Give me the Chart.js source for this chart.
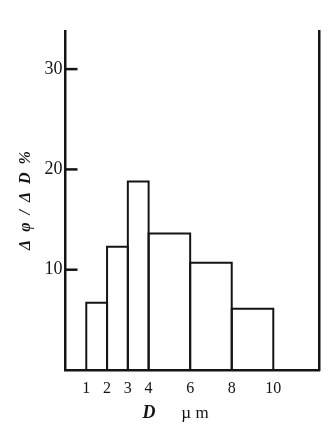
<!DOCTYPE html>
<html>
<head>
<meta charset="utf-8">
<script src="https://cdn.jsdelivr.net/npm/chart.js@4/dist/chart.umd.min.js"></script>
<style>
  html, body { margin: 0; padding: 0; background: #fff; }
  canvas { display: block; }
</style>
</head>
<body>
<canvas id="grafico" width="336" height="438"></canvas>
<script>
const bordes = [1, 2, 3, 4, 6, 8, 10];          // límites de clase D (µm)
const alturas = [6.7, 12.3, 18.8, 13.6, 10.7, 6.1]; // Δφ/ΔD %
const ticksX = [1, 2, 3, 4, 6, 8, 10];
const ticksY = [10, 20, 30];

const negro = '#141414';
const serif = "'Liberation Serif', 'DejaVu Serif', serif";

// cada barra es un rectángulo abierto por abajo
const datasets = alturas.map((h, i) => ({
    data: [
        { x: bordes[i], y: 0 },
        { x: bordes[i], y: h },
        { x: bordes[i + 1], y: h },
        { x: bordes[i + 1], y: 0 }
    ],
    showLine: true,
    borderColor: negro,
    borderWidth: 2,
    pointRadius: 0,
    fill: false,
    tension: 0
}));

// marcas del eje y hacia adentro + título del eje x en dos estilos
const extras = {
    id: 'extras',
    afterDraw(chart) {
        const c = chart.ctx;
        const y = chart.scales.y;
        const izq = chart.chartArea.left;
        c.save();
        c.strokeStyle = negro;
        c.lineWidth = 2.5;
        ticksY.forEach(v => {
            const py = y.getPixelForValue(v);
            c.beginPath();
            c.moveTo(izq, py);
            c.lineTo(izq + 12, py);
            c.stroke();
        });
        c.fillStyle = negro;
        c.textBaseline = 'middle';
        c.textAlign = 'center';
        c.font = "bold italic 18px " + serif;
        c.fillText('D', 149, 413);
        c.font = "17px " + serif;
        c.fillText('µ m', 195, 414);
        c.restore();
    }
};

new Chart(document.getElementById('grafico'), {
    type: 'scatter',
    data: { datasets: datasets },
    options: {
        responsive: false,
        animation: false,
        layout: { padding: { left: 0, right: 17, top: 31, bottom: 0 } },
        plugins: { legend: { display: false }, tooltip: { enabled: false } },
        scales: {
            x: {
                type: 'linear',
                min: 0,
                max: 12.2,
                afterBuildTicks: s => { s.ticks = ticksX.map(v => ({ value: v })); },
                afterFit: s => { s.height = 68; },
                grid: { display: false, drawTicks: false },
                border: { display: true, color: negro, width: 2.5 },
                ticks: {
                    color: negro,
                    padding: 9,
                    maxRotation: 0,
                    autoSkip: false,
                    font: { family: serif, size: 16 }
                }
            },
            y: {
                min: 0,
                max: 33.8,
                afterBuildTicks: s => { s.ticks = ticksY.map(v => ({ value: v })); },
                afterFit: s => { s.width = 65.5; },
                grid: { display: false, drawTicks: false },
                border: { display: true, color: negro, width: 2.5 },
                ticks: {
                    color: negro,
                    padding: 3,
                    font: { family: serif, size: 18 }
                },
                title: {
                    display: true,
                    text: 'Δ  φ  /  Δ  D  %',
                    color: negro,
                    padding: { top: 16, bottom: 0 },
                    font: { family: serif, size: 16, weight: 'bold', style: 'italic' }
                }
            },
            yDer: {
                position: 'right',
                min: 0,
                max: 33.8,
                afterFit: s => { s.width = 0; },
                grid: { display: false, drawTicks: false },
                border: { display: true, color: negro, width: 2.5 },
                ticks: { display: false }
            }
        }
    },
    plugins: [extras]
});
</script>
</body>
</html>
